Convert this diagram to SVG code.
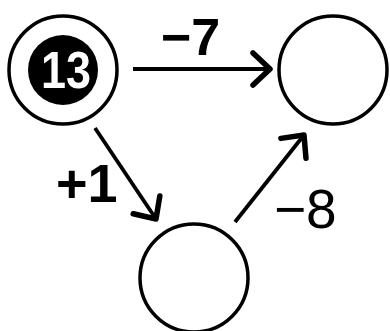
<svg xmlns="http://www.w3.org/2000/svg" width="390" height="331" viewBox="0 0 390 331">
<defs>
<style>
.node{fill:#fff;stroke:#000;stroke-width:3.5}
.edge{fill:none;stroke:#000;stroke-width:3.8;stroke-linecap:butt}
.lbl{font-family:"Liberation Sans",Arial,sans-serif;fill:#000}
</style>
<marker id="arr" markerUnits="userSpaceOnUse" markerWidth="40" markerHeight="40" viewBox="-25 -20 30 40" refX="0" refY="0" orient="auto">
<path d="M-17,-16 L0,0 L-17,16" fill="none" stroke="#000" stroke-width="5.5" stroke-linecap="round" stroke-linejoin="round"/>
</marker>
</defs>
<rect width="390" height="331" fill="#fff"/>
<g id="connectors">
<path class="edge" d="M133,69 L270,69" marker-end="url(#arr)"/>
<path class="edge" d="M95,128 L156,219" marker-end="url(#arr)"/>
<path class="edge" d="M235,222 L304,135" marker-end="url(#arr)"/>
<text class="lbl" x="161" y="55" font-size="52" font-weight="bold">−7</text>
<text class="lbl" x="56" y="202" font-size="54" font-weight="bold">+1</text>
<text class="lbl" x="274" y="228" font-size="55">−8</text>
</g>
<g id="node-start">
<circle class="node" cx="63" cy="70" r="54"/>
<circle cx="63" cy="70" r="35" fill="#000"/>
<text class="lbl" x="66" y="88" font-size="52" font-weight="bold" fill="#fff" style="fill:#fff" text-anchor="middle" textLength="50" lengthAdjust="spacingAndGlyphs">13</text>
</g>
<g id="node-right">
<circle class="node" cx="333" cy="70" r="54"/>
</g>
<g id="node-bottom">
<circle class="node" cx="194" cy="278" r="54"/>
</g>
</svg>
